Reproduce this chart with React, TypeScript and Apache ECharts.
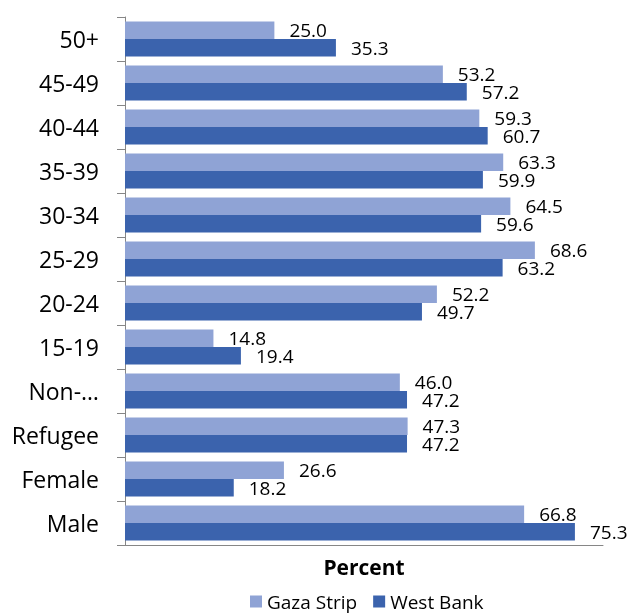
import React, { useEffect, useRef } from "react";
import * as echarts from "echarts";

const categories = ["Male", "Female", "Refugee", "Non-…", "15-19", "20-24", "25-29", "30-34", "35-39", "40-44", "45-49", "50+"];
const gazaStrip = [66.8, 26.6, 47.3, 46.0, 14.8, 52.2, 68.6, 64.5, 63.3, 59.3, 53.2, 25.0];
const westBank = [75.3, 18.2, 47.2, 47.2, 19.4, 49.7, 63.2, 59.6, 59.9, 60.7, 57.2, 35.3];
const seriesNames = ["Gaza Strip", "West Bank"];
const axisTitle = "Percent";

const FONT = "'Open Sans', 'Noto Sans', sans-serif";

export default function App() {
  const ref = useRef<HTMLDivElement>(null);
  useEffect(() => {
    if (!ref.current) return;
    const chart = echarts.init(ref.current, null, { renderer: "svg" });
    const label = {
      show: true,
      position: "right",
      distance: 15,
      color: "#000",
      fontFamily: FONT,
      fontSize: 19,
      lineHeight: 17,
      formatter: (p: any) => Number(p.value).toFixed(1),
    };
    chart.setOption({
      animation: false,
      textStyle: { fontFamily: FONT },
      grid: { left: 125, right: 32, top: 17, bottom: 69, containLabel: false },
      legend: {
        bottom: -2,
        left: 245,
        itemWidth: 12,
        itemHeight: 12,
        itemGap: 16,
        icon: "rect",
        textStyle: { fontFamily: FONT, fontSize: 19, color: "#000" },
        data: seriesNames,
      },
      xAxis: {
        type: "value",
        min: 0,
        max: 80,
        name: axisTitle,
        nameLocation: "middle",
        nameGap: 11,
        nameTextStyle: { fontFamily: FONT, fontSize: 21, fontWeight: "bold", color: "#000" },
        axisLine: { show: true, lineStyle: { color: "#868686", width: 1 } },
        axisTick: { show: false },
        axisLabel: { show: false },
        splitLine: { show: false },
      },
      yAxis: {
        type: "category",
        data: categories,
        axisLine: { show: true, lineStyle: { color: "#868686", width: 1 } },
        axisTick: { show: true, length: 8, lineStyle: { color: "#868686" } },
        axisLabel: { margin: 26, color: "#000", fontFamily: FONT, fontSize: 23 },
      },
      series: [
        {
          name: seriesNames[0],
          type: "bar",
          data: gazaStrip,
          itemStyle: { color: "#8FA3D5" },
          barGap: "0%",
          barCategoryGap: "20%",
          label,
        },
        {
          name: seriesNames[1],
          type: "bar",
          data: westBank,
          itemStyle: { color: "#3B63AD" },
          barGap: "0%",
          barCategoryGap: "20%",
          label,
        },
      ],
    });
    return () => chart.dispose();
  }, []);
  return <div ref={ref} style={{ position: "fixed", left: 0, top: 0, width: 635, height: 614 }} />;
}
